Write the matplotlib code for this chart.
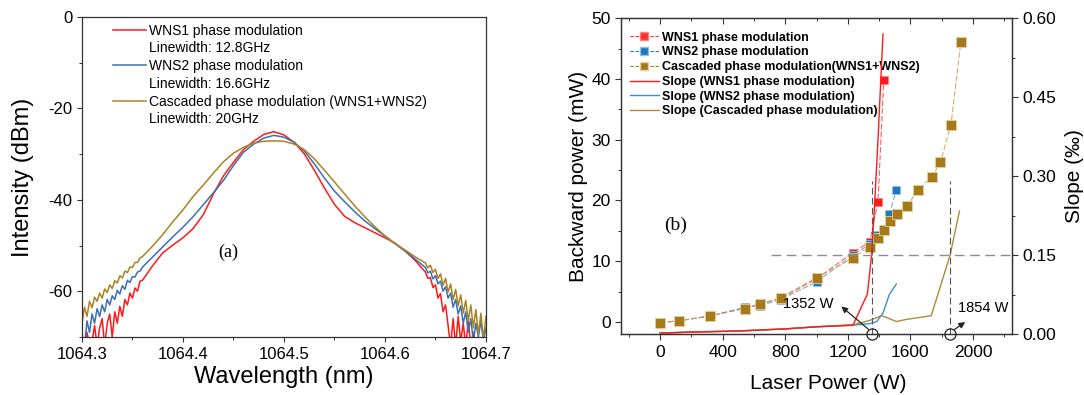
import numpy as np
import matplotlib
matplotlib.use("Agg")
import matplotlib.pyplot as plt
from matplotlib.lines import Line2D
from matplotlib.ticker import MultipleLocator

plt.rcParams['font.family'] = ['Liberation Sans', 'DejaVu Sans']
plt.rcParams['axes.unicode_minus'] = False

# ---- (a) spectra data ----
wl_left = [1064.3000, 1064.3025, 1064.3050, 1064.3075, 1064.3100, 1064.3125, 1064.3150, 1064.3175,
           1064.3200, 1064.3225, 1064.3250, 1064.3275, 1064.3300, 1064.3325, 1064.3350, 1064.3375,
           1064.3400, 1064.3425, 1064.3450, 1064.3475, 1064.3500, 1064.3525, 1064.3550, 1064.3575,
           1064.3600]
wl_core = [1064.37, 1064.38, 1064.39, 1064.40, 1064.41, 1064.42, 1064.43, 1064.44, 1064.45,
           1064.46, 1064.47, 1064.48, 1064.49, 1064.50, 1064.51, 1064.52, 1064.53, 1064.54,
           1064.55, 1064.56, 1064.57, 1064.58, 1064.59, 1064.60, 1064.61, 1064.62, 1064.63]
wl_right = [1064.6400, 1064.6425, 1064.6450, 1064.6475, 1064.6500, 1064.6525, 1064.6550, 1064.6575,
            1064.6600, 1064.6625, 1064.6650, 1064.6675, 1064.6700, 1064.6725, 1064.6750, 1064.6775,
            1064.6800, 1064.6825, 1064.6850, 1064.6875, 1064.6900, 1064.6925, 1064.6950, 1064.6975,
            1064.7000]

wns1_spec = ([-72, -72, -69, -72, -71, -67.5, -72, -68, -66, -72, -67, -65, -70, -64.5, -67, -63.3,
              -65.5, -61.8, -63, -60.4, -61.5, -59.3, -60, -57.8, -57.6]
             + [-54.4, -51.6, -49.9, -48.3, -46.3, -43.3, -38.8, -34.8, -31.8, -29.0, -27.2, -25.7,
                -25.1, -25.8, -27.4, -29.9, -33.5, -37.4, -41.0, -43.6, -45.0, -46.1, -47.2, -48.3,
                -49.5, -51.2, -53.3]
             + [-55.8, -57.2, -57.0, -59.2, -58.6, -61.5, -60.5, -64.5, -63.0, -67.5, -72, -66, -72,
                -65.5, -71, -67, -72, -66.5, -72, -69, -72, -72, -72, -72, -72])
wns2_spec = ([-70, -72, -66.5, -69, -65, -67, -63.8, -65.5, -63, -64.5, -61.8, -63, -61, -61.8, -59.8,
              -60.6, -58.8, -59.6, -57.6, -58.1, -56.8, -56.9, -55.8, -55.6, -54.7]
             + [-52.5, -50.3, -48.1, -46.0, -43.7, -41.1, -38.5, -35.8, -32.5, -29.6, -27.8, -26.5,
                -25.9, -26.3, -27.4, -29.3, -32.1, -35.2, -38.1, -40.4, -42.6, -44.6, -46.3, -47.9,
                -49.6, -51.2, -53.0]
             + [-54.8, -56.0, -55.6, -57.3, -56.6, -58.4, -57.8, -60.0, -59.0, -61.5, -60.4, -63.5,
                -61.8, -65.0, -63.2, -67.0, -64.5, -69, -66, -71, -67, -70, -66.5, -71, -68])
casc_spec = ([-67, -63.5, -65.5, -62.2, -63.6, -61.3, -62.2, -60.4, -61.5, -59.5, -60.3, -58.6, -59.4,
              -57.7, -58.2, -56.6, -57.1, -55.6, -55.9, -54.7, -54.8, -53.7, -53.7, -52.7, -52.4]
             + [-50.1, -47.6, -44.8, -42.2, -39.3, -36.8, -34.2, -31.7, -29.8, -28.5, -27.6, -27.2,
                -27.1, -27.2, -27.8, -29.0, -31.0, -33.5, -36.1, -38.7, -41.3, -43.7, -45.9, -47.9,
                -49.6, -51.0, -52.5]
             + [-53.8, -54.9, -54.3, -55.9, -55.2, -57.2, -56.2, -58.7, -57.2, -60.2, -58.4, -61.8,
                -59.6, -63.2, -60.8, -64.8, -62.0, -66.5, -63.0, -68, -64.0, -69.5, -64.8, -70.5, -65.5])
wl = wl_left + wl_core + wl_right

# ---- (b) backward power data ----
p_wns1 = [0, 120, 320, 540, 640, 770, 1000, 1232, 1340, 1393, 1430]
bw_wns1 = [-0.1, 0.2, 1.0, 2.3, 3.0, 3.9, 7.1, 11.4, 13.2, 19.8, 39.8]
p_wns2 = [0, 120, 320, 540, 640, 770, 1000, 1232, 1340, 1385, 1425, 1465, 1510]
bw_wns2 = [-0.1, 0.2, 1.0, 2.4, 2.7, 3.7, 6.6, 11.0, 12.8, 14.3, 14.9, 17.7, 21.7]
p_casc = [0, 120, 320, 540, 640, 770, 1000, 1232, 1340, 1390, 1430, 1470, 1512, 1580, 1650,
          1740, 1792, 1860, 1922]
bw_casc = [-0.1, 0.2, 1.0, 2.2, 3.0, 4.0, 7.3, 10.5, 12.4, 13.9, 15.1, 16.7, 17.7, 19.1, 21.8,
           23.9, 26.3, 32.5, 46.0]

sp_wns1 = [0, 200, 500, 800, 1000, 1233, 1325, 1352, 1372, 1393, 1425]
slope_wns1 = [0.002, 0.004, 0.006, 0.010, 0.014, 0.017, 0.076, 0.150, 0.250, 0.370, 0.570]
sp_wns2 = [0, 200, 500, 800, 1000, 1233, 1340, 1385, 1425, 1465, 1510]
slope_wns2 = [0.002, 0.004, 0.006, 0.010, 0.014, 0.017, 0.020, 0.024, 0.040, 0.075, 0.095]
sp_casc = [0, 200, 500, 800, 1000, 1233, 1340, 1414, 1446, 1510, 1574, 1733, 1786, 1854, 1914]
slope_casc = [0.002, 0.004, 0.006, 0.010, 0.014, 0.018, 0.026, 0.035, 0.032, 0.024, 0.028,
              0.035, 0.085, 0.150, 0.234]

thresholds = [1352, 1854]

RED = '#ff1a1a'
BLUE = '#3a70b5'
GOLD = '#a98323'
BLUE_B = '#1f78bd'
GOLD_B = '#a47a1c'

fig = plt.figure(figsize=(10.84, 3.95), dpi=100)

# ================= panel (a) =================
ax1 = fig.add_axes([0.0756, 0.147, 0.3727, 0.810])
l1, = ax1.plot(wl, wns1_spec, color=RED, lw=1.1)
l2, = ax1.plot(wl, wns2_spec, color=BLUE, lw=1.1)
l3, = ax1.plot(wl, casc_spec, color=GOLD, lw=1.1)
ax1.set_xlim(1064.3, 1064.7)
ax1.set_ylim(-70, 0)
ax1.xaxis.set_major_locator(MultipleLocator(0.1))
ax1.xaxis.set_minor_locator(MultipleLocator(0.05))
ax1.yaxis.set_minor_locator(MultipleLocator(10))
ax1.set_yticks([-60, -40, -20, 0])
ax1.xaxis.set_major_formatter(matplotlib.ticker.FormatStrFormatter('%.1f'))
ax1.tick_params(which='major', length=3.5, width=0.8, labelsize=12, color='#333333')
ax1.tick_params(which='minor', length=2, width=0.7, color='#333333')
for s in ax1.spines.values():
    s.set_linewidth(0.9)
    s.set_color('#333333')
ax1.set_xlabel('Wavelength (nm)', fontsize=17, labelpad=3)
ax1.set_ylabel('Intensity (dBm)', fontsize=17, labelpad=10)
ax1.text(1064.4446, -51.6, '(a)', family=['Liberation Serif', 'DejaVu Serif'], fontsize=13,
         ha='center', va='center')

blank = Line2D([], [], color='none')
ax1.legend([l1, blank, l2, blank, l3, blank],
           ['WNS1 phase modulation', 'Linewidth: 12.8GHz',
            'WNS2 phase modulation', 'Linewidth: 16.6GHz',
            'Cascaded phase modulation (WNS1+WNS2)', 'Linewidth: 20GHz'],
           loc='upper left', bbox_to_anchor=(0.055, 1.005), frameon=False, fontsize=10,
           handlelength=2.4, handletextpad=0.2, labelspacing=0.27, borderaxespad=0.2)

# ================= panel (b) =================
ax2 = fig.add_axes([0.5729, 0.154, 0.3607, 0.80])
ax3 = ax2.twinx()

ax2.plot(p_wns1, bw_wns1, ls=(0, (5, 2)), color=RED, lw=0.8, alpha=0.7, zorder=2)
ax2.plot(p_wns1, bw_wns1, ls='none', marker='s', ms=6, color=RED, mec='#ff8080', mew=0.6,
         zorder=3)
ax2.plot(p_wns2, bw_wns2, ls=(0, (5, 2)), color=BLUE_B, lw=0.8, alpha=0.6, zorder=2)
ax2.plot(p_wns2, bw_wns2, ls='none', marker='s', ms=6, color=BLUE_B, mec='#8fc0e6', mew=0.6,
         zorder=3)
ax2.plot(p_casc, bw_casc, ls=(0, (5, 2)), color='#c9a865', lw=0.8, alpha=0.9, zorder=2)
ax2.plot(p_casc, bw_casc, ls='none', marker='s', ms=6.5, color=GOLD_B, mec='#e6cf99', mew=0.6,
         zorder=3)

ax3.plot(sp_wns2, slope_wns2, color='#3b8fd0', lw=1.0)
ax3.plot(sp_casc, slope_casc, color='#b08a3a', lw=1.0)
ax3.plot(sp_wns1, slope_wns1, color=RED, lw=1.0)

# threshold guides
ax3.plot([710, 2260], [0.15, 0.15], ls=(0, (7, 4)), color='#8c8c8c', lw=1.0, clip_on=False)
for t in thresholds:
    ax3.plot([t, t], [0.0, 0.29], ls=(0, (6, 3)), color='#555555', lw=0.8)
    ax3.plot([t], [0.0], marker='o', ms=8, mfc='none', mec='#222222', mew=0.9, clip_on=False,
             zorder=5)

ax3.annotate('', xy=(1145, 0.056), xytext=(1345, 0.006),
             arrowprops=dict(arrowstyle='-|>', color='#222222', lw=0.9, mutation_scale=9))
ax3.text(785, 0.057, '1352 W', fontsize=10.5, va='center', ha='left')
ax3.annotate('', xy=(1965, 0.026), xytext=(1868, 0.006),
             arrowprops=dict(arrowstyle='-|>', color='#222222', lw=0.9, mutation_scale=9))
ax3.text(1905, 0.050, '1854 W', fontsize=10.5, va='center', ha='left')

ax2.text(100, 15.9, '(b)', family=['Liberation Serif', 'DejaVu Serif'], fontsize=14,
         ha='center', va='center')

ax2.set_xlim(-250, 2250)
ax2.set_ylim(-2, 50)
ax3.set_ylim(0, 0.6)
ax2.xaxis.set_major_locator(MultipleLocator(400))
ax2.xaxis.set_minor_locator(MultipleLocator(200))
ax2.yaxis.set_major_locator(MultipleLocator(10))
ax2.yaxis.set_minor_locator(MultipleLocator(5))
ax3.yaxis.set_major_locator(MultipleLocator(0.15))
ax3.yaxis.set_minor_locator(MultipleLocator(0.075))
ax3.yaxis.set_major_formatter(matplotlib.ticker.FormatStrFormatter('%.2f'))
ax2.tick_params(which='major', length=4, width=0.8, labelsize=12.5, color='#333333')
ax2.tick_params(which='minor', length=2.5, width=0.7, color='#333333')
ax2.tick_params(axis='x', which='both', top=True)
ax3.tick_params(which='major', length=4, width=0.8, labelsize=12.5, color='#333333')
ax3.tick_params(which='minor', length=2.5, width=0.7, color='#333333')
for a in (ax2, ax3):
    for s in a.spines.values():
        s.set_linewidth(0.9)
        s.set_color('#333333')
# top ticks point inward
for tk in ax2.xaxis.get_major_ticks() + ax2.xaxis.get_minor_ticks():
    tk.tick2line.set_marker(3)

ax2.set_xlabel('Laser Power (W)', fontsize=15, labelpad=11)
ax2.xaxis.set_label_coords(0.53, -0.125)
ax2.set_ylabel('Backward power (mW)', fontsize=15, labelpad=2)
ax3.set_ylabel('Slope (\u2030)', fontsize=15, labelpad=6)

h = [Line2D([], [], color=RED, ls=(0, (3, 1.5)), lw=0.8, marker='s', ms=6, mec='#ff8080',
            alpha=0.9),
     Line2D([], [], color=BLUE_B, ls=(0, (3, 1.5)), lw=0.8, marker='s', ms=6, mec='#8fc0e6'),
     Line2D([], [], color=GOLD_B, ls=(0, (3, 1.5)), lw=0.8, marker='s', ms=6, mec='#e6cf99'),
     Line2D([], [], color=RED, lw=1.0),
     Line2D([], [], color='#3b8fd0', lw=1.0),
     Line2D([], [], color='#b08a3a', lw=1.0)]
labels = ['WNS1 phase modulation', 'WNS2 phase modulation',
          'Cascaded phase modulation(WNS1+WNS2)', 'Slope (WNS1 phase modulation)',
          'Slope (WNS2 phase modulation)', 'Slope (Cascaded phase modulation)']
leg = ax2.legend(h, labels, loc='upper left', bbox_to_anchor=(0.0, 0.985), frameon=False,
                 prop={'size': 9, 'weight': 'bold'}, handlelength=2.3, handletextpad=0.25,
                 labelspacing=0.22, borderaxespad=0.3)
leg.set_zorder(10)

fig.savefig('out.png', dpi=100)
